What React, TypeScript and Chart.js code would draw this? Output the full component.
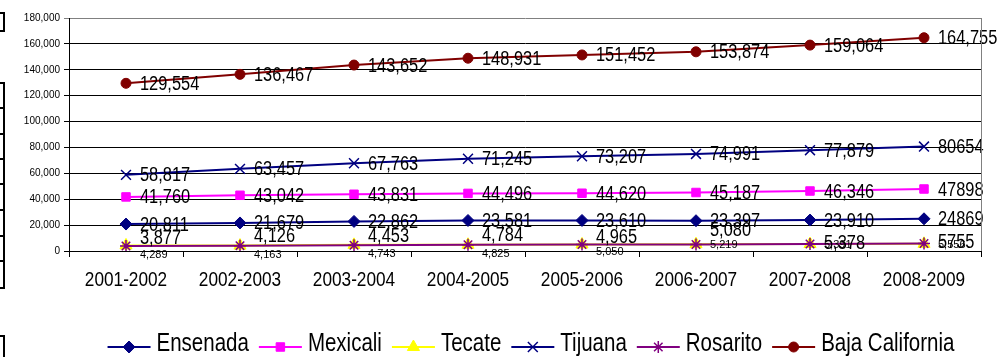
import React, { useEffect, useRef } from "react";
import { Chart, registerables } from "chart.js";
import { drawPoint } from "chart.js/helpers";

Chart.register(...registerables);

const categories = [
  "2001-2002",
  "2002-2003",
  "2003-2004",
  "2004-2005",
  "2005-2006",
  "2006-2007",
  "2007-2008",
  "2008-2009",
];

const ensenada = [20811, 21679, 22862, 23581, 23610, 23397, 23910, 24869];
const mexicali = [41760, 43042, 43831, 44496, 44620, 45187, 46346, 47898];
const tecate = [4289, 4163, 4743, 4825, 5050, 5219, 5391, 5556];
const tijuana = [58817, 63457, 67763, 71245, 73207, 74991, 77879, 80654];
const rosarito = [3877, 4126, 4453, 4784, 4965, 5080, 5378, 5755];
const bajaCalifornia = [129554, 136467, 143652, 148931, 151452, 153874, 159064, 164755];

const yMin = 0;
const yMax = 180000;
const yStep = 20000;

// label vertical nudges (px) as seen in the original
const rosaritoLabelDy = [-8, -10, -10, -10, -8, -15, -2, -2];
const tecateLabelDy = [9, 8, 8, 8, 7, 0, 0, 0];

const REGULAR = '"Liberation Sans", Arial, sans-serif';
const NARROW_SCALE = 0.82;

const fmt = (v: number) => v.toLocaleString("en-US");

type Series = {
  label: string;
  data: number[];
  color: string;
  pointStyle: any;
  radius: number;
  pointBorder: number;
  labelSize: number;
  labelNarrow: boolean;
  labelDy?: number[];
  plainLast: boolean;
  order: number;
};

const series: Series[] = [
  { label: "Ensenada", data: ensenada, color: "#000080", pointStyle: "rectRot", radius: 6, pointBorder: 1, labelSize: 20, labelNarrow: true, plainLast: true, order: 1 },
  { label: "Mexicali", data: mexicali, color: "#FF00FF", pointStyle: "rect", radius: 6, pointBorder: 1, labelSize: 20, labelNarrow: true, plainLast: true, order: 1 },
  { label: "Tecate", data: tecate, color: "#FFFF00", pointStyle: "triangle", radius: 7, pointBorder: 1, labelSize: 11, labelNarrow: false, labelDy: tecateLabelDy, plainLast: false, order: 2 },
  { label: "Tijuana", data: tijuana, color: "#000080", pointStyle: "crossRot", radius: 7, pointBorder: 1.5, labelSize: 20, labelNarrow: true, plainLast: true, order: 1 },
  { label: "Rosarito", data: rosarito, color: "#800080", pointStyle: "star", radius: 6, pointBorder: 1.5, labelSize: 20, labelNarrow: true, labelDy: rosaritoLabelDy, plainLast: true, order: 0 },
  { label: "Baja California", data: bajaCalifornia, color: "#800000", pointStyle: "circle", radius: 5, pointBorder: 1, labelSize: 20, labelNarrow: true, plainLast: false, order: 1 },
];

function narrowText(ctx: CanvasRenderingContext2D, text: string, x: number, y: number, align: "left" | "center", scale = NARROW_SCALE) {
  ctx.save();
  ctx.translate(x, y);
  ctx.scale(scale, 1);
  ctx.textAlign = align;
  ctx.textBaseline = "middle";
  ctx.fillText(text, 0, 0);
  ctx.restore();
}

const dataLabelPlugin = {
  id: "dataLabels",
  afterDatasetsDraw(chart: any) {
    const ctx = chart.ctx;
    series.forEach((s, i) => {
      const meta = chart.getDatasetMeta(i);
      ctx.save();
      ctx.font = `${s.labelSize}px ${REGULAR}`;
      ctx.fillStyle = "#000";
      meta.data.forEach((pt: any, j: number) => {
        const v = s.data[j];
        const txt = s.plainLast && j === s.data.length - 1 ? String(v) : fmt(v);
        const dy = s.labelDy ? s.labelDy[j] : 0;
        narrowText(ctx, txt, pt.x + 14, pt.y + dy + 1, "left", s.labelNarrow ? NARROW_SCALE : 1);
      });
      ctx.restore();
    });
  },
};

const frameLegendPlugin = {
  id: "frameLegend",
  afterDraw(chart: any) {
    const ctx = chart.ctx;
    const a = chart.chartArea;
    ctx.save();
    // right border of plot area
    ctx.strokeStyle = "#808080";
    ctx.lineWidth = 1;
    ctx.beginPath();
    ctx.moveTo(Math.round(a.right) + 0.5, a.top);
    ctx.lineTo(Math.round(a.right) + 0.5, a.bottom);
    ctx.stroke();

    // category labels
    const xs = chart.scales.x;
    ctx.font = `21px ${REGULAR}`;
    ctx.fillStyle = "#000";
    categories.forEach((c, i) => {
      narrowText(ctx, c, xs.getPixelForValue(i), 280, "center");
    });

    // legend
    ctx.font = `25px ${REGULAR}`;
    const lineLen = 43;
    const gapText = 6;
    const gapItem = 10;
    let total = 0;
    series.forEach((s, i) => {
      total += lineLen + gapText + ctx.measureText(s.label).width * NARROW_SCALE + (i < series.length - 1 ? gapItem : 0);
    });
    let x = 531 - total / 2;
    const yLine = 347;
    const yText = 344;
    series.forEach((s) => {
      ctx.strokeStyle = s.color;
      ctx.lineWidth = 2;
      ctx.beginPath();
      ctx.moveTo(x, yLine);
      ctx.lineTo(x + lineLen, yLine);
      ctx.stroke();
      ctx.fillStyle = s.color;
      ctx.strokeStyle = s.color;
      ctx.lineWidth = s.pointBorder;
      drawPoint(ctx, { pointStyle: s.pointStyle, radius: s.radius, rotation: 0, borderWidth: s.pointBorder } as any, x + lineLen / 2, yLine);
      ctx.fillStyle = "#000";
      narrowText(ctx, s.label, x + lineLen + gapText, yText, "left");
      x += lineLen + gapText + ctx.measureText(s.label).width * NARROW_SCALE + gapItem;
    });
    ctx.restore();
  },
};

function Boxes() {
  const line = (top: number, h: number) => ({
    position: "absolute" as const,
    left: -10,
    top,
    width: 15,
    height: h,
    border: "2px solid #000",
    boxSizing: "border-box" as const,
  });
  const rows = [82, 107, 133, 158, 183, 209, 235, 260];
  return (
    <>
      <div style={line(12, 20)} />
      {rows.map((r, i) => (
        <div key={i} style={line(r, (i < rows.length - 1 ? rows[i + 1] : 287) - r + 2)} />
      ))}
      <div style={line(335, 40)} />
    </>
  );
}

export default function App() {
  const ref = useRef<HTMLCanvasElement | null>(null);
  useEffect(() => {
    const canvas = ref.current!;
    const chart = new Chart(canvas, {
      type: "line",
      data: {
        labels: categories,
        datasets: series.map((s) => ({
          label: s.label,
          data: s.data,
          borderColor: s.color,
          backgroundColor: s.color,
          borderWidth: 2,
          pointStyle: s.pointStyle,
          pointRadius: s.radius,
          pointBorderWidth: s.pointBorder,
          pointBackgroundColor: s.color,
          pointBorderColor: s.color,
          tension: 0,
          fill: false,
          order: s.order,
        })),
      },
      options: {
        responsive: false,
        animation: false,
        devicePixelRatio: 1,
        layout: { padding: { left: 0, top: 18, right: 22, bottom: 0 } },
        plugins: {
          legend: { display: false },
          tooltip: { enabled: false },
          title: { display: false },
        },
        scales: {
          x: {
            type: "category",
            offset: true,
            grid: {
              offset: true,
              drawOnChartArea: false,
              drawTicks: true,
              tickLength: 6,
              color: "#000",
            },
            border: { display: true, color: "#000", width: 1 },
            ticks: {
              color: "rgba(0,0,0,0)",
              font: { family: REGULAR, size: 12 },
              padding: 6,
              maxRotation: 0,
              autoSkip: false,
            },
            afterFit: (s: any) => {
              s.height = 106;
            },
          },
          y: {
            min: yMin,
            max: yMax,
            grid: {
              color: (c: any) => (c.tick && c.tick.value === yMax ? "#808080" : "#000"),
              drawTicks: true,
              tickLength: 5,
            },
            border: { display: true, color: "#000", width: 1 },
            ticks: {
              stepSize: yStep,
              color: "#000",
              font: { family: REGULAR, size: 10 },
              padding: 4,
              callback: (v: any) => fmt(Number(v)),
            },
            afterFit: (s: any) => {
              s.width = 69;
            },
          },
        },
      },
      plugins: [dataLabelPlugin, frameLegendPlugin],
    });
    return () => chart.destroy();
  }, []);
  return (
    <div style={{ position: "absolute", left: 0, top: 0, width: 1003, height: 357, background: "#fff", overflow: "hidden" }}>
      <canvas ref={ref} width={1003} height={357} style={{ position: "absolute", left: 0, top: 0 }} />
      <Boxes />
    </div>
  );
}
